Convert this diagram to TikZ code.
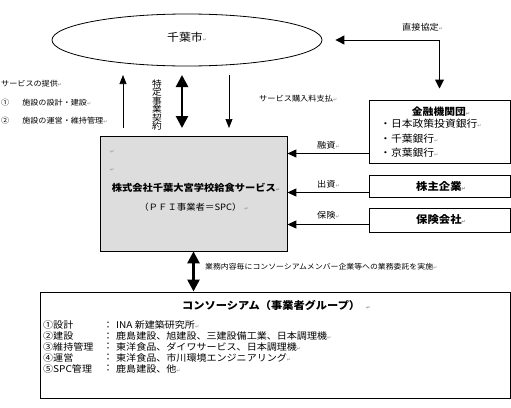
\documentclass[tikz,border=0pt]{standalone}
\usepackage{fontspec}
\setmainfont{Noto Sans CJK JP}[FakeStretch=1.08]
\newfontfamily\dejavu{DejaVu Sans}
\usetikzlibrary{arrows.meta,shapes.geometric}
\definecolor{spcgray}{RGB}{221,221,221}
\newcommand\myfs[1]{\fontsize{#1}{#1}\selectfont}
\newcommand\rt{{\dejavu\fontsize{5}{5}\selectfont\textcolor{black!45}{↵}}}
\begin{document}
\begin{tikzpicture}[x=1pt,y=-1pt,
  lbl/.style={inner sep=0pt, anchor=center},
  lw/.style={inner sep=0pt, anchor=west},
  box/.style={draw=black, line width=1pt, inner sep=0pt},
  thinarr/.style={line width=0.7pt, -{Triangle[length=9pt,width=7pt]}},
  boldarr/.style={line width=2.6pt, {Triangle[length=12pt,width=12pt]}-{Triangle[length=12pt,width=12pt]}},
  sidearr/.style={line width=1pt, -{Triangle[length=9pt,width=8pt]}},
  agrarr/.style={line width=1pt, {Triangle[length=9pt,width=9pt]}-{Triangle[length=9pt,width=9pt]}}
]
\useasboundingbox (0,0) rectangle (511,407);
\fill[white] (0,0) rectangle (511,407);

% city
\node[draw, ellipse, line width=0.8pt, minimum width=270pt, minimum height=52pt, inner sep=0pt] (city) at (187,40) {};
\node[lw, font=\myfs{11}] (citylbl) at (167,37) {千葉市\rt};

% boxes
\node[box, fill=spcgray, line width=0.8pt, minimum width=187pt, minimum height=115pt] (spc) at (193.5,193.5) {};
\node[box, minimum width=141pt, minimum height=63pt] (fin) at (439.5,131.5) {};
\node[box, minimum width=141pt, minimum height=22pt] (stock) at (439.5,186) {};
\node[box, minimum width=141pt, minimum height=24pt] (ins) at (439.5,220) {};
\node[box, minimum width=470pt, minimum height=106pt] (cons) at (275,345) {};

% texts in boxes
\node[lw] (r1) at (110,152) {\rt};
\node[lw] (r2) at (110,170) {\rt};
\node[lbl, font=\bfseries\myfs{9.5}] (spct) at (196,188) {株式会社千葉大宮学校給食サービス\rt};
\node[lbl, font=\myfs{8.7}] (spcs) at (194,207) {（ＰＦＩ事業者＝SPC）\hspace{3pt}\rt};

\node[lbl, font=\bfseries\myfs{10}] (fint) at (441,112) {金融機関団\rt};
\node[lw, font=\myfs{10}] (b1) at (380,124) {・日本政策投資銀行\rt};
\node[lw, font=\myfs{10}] (b2) at (380,139) {・千葉銀行\rt};
\node[lw, font=\myfs{10}] (b3) at (380,153) {・京葉銀行\rt};
\node[lbl, font=\bfseries\myfs{10.5}] (stockt) at (441,186) {株主企業\rt};
\node[lbl, font=\bfseries\myfs{10.5}] (inst) at (441,220) {保険会社\rt};

\node[lw, font=\bfseries\myfs{10.4}] (const) at (182,305) {コンソーシアム（事業者グループ）\hspace{6pt}\rt};
\begin{scope}[every node/.style={lw, font=\myfs{9.3}}]
\node (l1) at (43,325) {①設計};
\node (l2) at (43,336) {②建設};
\node (l3) at (43,346.5) {③維持管理};
\node (l4) at (43,357.5) {④運営};
\node (l5) at (43,368.5) {⑤SPC管理};
\node (c1) at (103,325) {：};
\node (c2) at (103,336) {：};
\node (c3) at (103,346.5) {：};
\node (c4) at (103,357.5) {：};
\node (c5) at (103,368.5) {：};
\node (v1) at (116,325) {INA 新建築研究所\rt};
\node (v2) at (116,336) {鹿島建設、旭建設、三建設備工業、日本調理機\rt};
\node (v3) at (116,346.5) {東洋食品、ダイワサービス、日本調理機\rt};
\node (v4) at (116,357.5) {東洋食品、市川環境エンジニアリング\rt};
\node (v5) at (116,368.5) {鹿島建設、他\rt};
\end{scope}

% left texts
\node[lw, font=\myfs{7.5}] (s0) at (1,84) {サービスの提供\rt};
\node[lw, font=\myfs{7.5}] (s1) at (1,103) {①\hspace{13pt}施設の設計・建設\rt};
\node[lw, font=\myfs{7.5}] (s2) at (1,121) {②\hspace{13pt}施設の運営・維持管理\rt};

% vertical contract text
\node[lbl, font=\myfs{9}, align=center] (contract) at (157,105) {特\\[-0.6pt]定\\[-0.6pt]事\\[-0.6pt]業\\[-0.6pt]契\\[-0.6pt]約};

% arrows between city and SPC
\coordinate (u1) at (123,128); \coordinate (u2) at (123,75);
\coordinate (k1) at (182,75);  \coordinate (k2) at (182,128);
\coordinate (d1) at (229,75);  \coordinate (d2) at (229,128);
\draw[thinarr] (u1) -- (u2);
\draw[boldarr] (k1) -- (k2);
\draw[thinarr] (d1) -- (d2);
\node[lw, font=\myfs{7.6}] (pay) at (259,99) {サービス購入料支払\rt};

% direct agreement
\node[lw, font=\myfs{8.5}] (agr) at (402,27) {直接協定\rt};
\draw[agrarr, shorten <=13pt, shorten >=11pt] (city.east) -| (fin.north);

% side arrows
\draw[sidearr] ([yshift=10pt]fin.south west) coordinate (f1) -- (f1 -| spc.east);
\draw[sidearr] ([yshift=5pt]stock.south west) coordinate (f2) -- (f2 -| spc.east);
\draw[sidearr] ([yshift=8pt]ins.south west) coordinate (f3) -- (f3 -| spc.east);
\node[lw, font=\myfs{8.5}] (yu) at (317,145) {融資\rt};
\node[lw, font=\myfs{8.5}] (sh) at (317,184) {出資\rt};
\node[lw, font=\myfs{8.5}] (ho) at (317,215) {保険\rt};

% SPC to consortium
\draw[boldarr] (spc.south) -- (spc.south |- cons.north);
\node[lw, font=\myfs{7.3}] (itaku) at (205,267) {業務内容毎にコンソーシアムメンバー企業等への業務委託を実施\rt};
\end{tikzpicture}
\end{document}
